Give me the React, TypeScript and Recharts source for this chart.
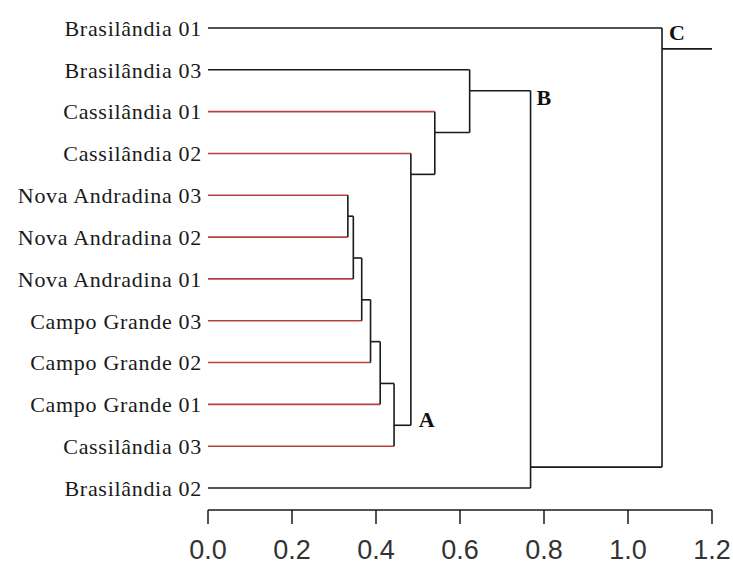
import React from 'react';
import { ComposedChart, XAxis, YAxis, ReferenceLine, ReferenceDot, Scatter } from 'recharts';

// leaves, top to bottom
const leaves = [
  'Brasilândia 01',
  'Brasilândia 03',
  'Cassilândia 01',
  'Cassilândia 02',
  'Nova Andradina 03',
  'Nova Andradina 02',
  'Nova Andradina 01',
  'Campo Grande 03',
  'Campo Grande 02',
  'Campo Grande 01',
  'Cassilândia 03',
  'Brasilândia 02',
];
const highlighted = [false, false, true, true, true, true, true, true, true, true, true, false];

// merges: [child a, child b, height]; new node ids start at leaves.length
const merges: [number, number, number][] = [
  [4, 5, 0.333],
  [12, 6, 0.346],
  [13, 7, 0.366],
  [14, 8, 0.387],
  [15, 9, 0.41],
  [16, 10, 0.443],
  [3, 17, 0.483],
  [2, 18, 0.54],
  [1, 19, 0.623],
  [20, 11, 0.768],
  [0, 21, 1.081],
];
const rootEnd = 1.2;

// cluster letters: [letter, child node, parent merge index]
const clusterLabels: [string, number, number][] = [
  ['A', 17, 6],
  ['B', 20, 9],
  ['C', 0, 10],
];

const xTicks = [0, 0.2, 0.4, 0.6, 0.8, 1.0, 1.2];

const RED = '#b8413f';
const BLACK = '#1a1a1a';

type Seg = { x1: number; y1: number; x2: number; y2: number; color: string };

function buildSegments() {
  const y: number[] = leaves.map((_, i) => i);
  const h: number[] = leaves.map(() => 0);
  const lo: number[] = leaves.map((_, i) => i);
  const hi: number[] = leaves.map((_, i) => i);
  const segs: Seg[] = [];
  merges.forEach(([a, b, height]) => {
    const [up, down] = lo[a] < lo[b] ? [a, b] : [b, a];
    [up, down].forEach((c) => {
      const color = c < leaves.length && highlighted[c] ? RED : BLACK;
      segs.push({ x1: h[c], y1: y[c], x2: height, y2: y[c], color });
    });
    segs.push({ x1: height, y1: y[up], x2: height, y2: y[down], color: BLACK });
    y.push((hi[up] + lo[down]) / 2);
    h.push(height);
    lo.push(Math.min(lo[a], lo[b]));
    hi.push(Math.max(hi[a], hi[b]));
  });
  const root = y.length - 1;
  segs.push({ x1: h[root], y1: y[root], x2: rootEnd, y2: y[root], color: BLACK });
  return { segs, y, h };
}

const { segs, y: nodeY } = buildSegments();
const leafPoints = leaves.map((_, i) => ({ x: 0, y: i }));

const labelOffsets: Record<string, [number, number]> = {
  A: [8, 2],
  B: [6, 14],
  C: [7, 12],
};

export default function App() {
  return (
    <div style={{ position: 'absolute', left: 0, top: 0, background: '#fff' }}>
      <ComposedChart width={733} height={565} margin={{ top: 28, right: 21, left: 0, bottom: 0 }}>
        <XAxis
          type="number"
          dataKey="x"
          domain={[0, 1.2]}
          ticks={xTicks}
          tickFormatter={(v: number) => v.toFixed(1)}
          tickSize={14}
          tickMargin={16}
          height={55}
          stroke={BLACK}
          axisLine={{ stroke: BLACK, strokeWidth: 1.5 }}
          tickLine={{ stroke: BLACK, strokeWidth: 1.5 }}
          tick={{ fill: '#333', fontFamily: 'Liberation Sans, Arial, sans-serif', fontSize: 27 }}
          allowDataOverflow
        />
        <YAxis
          type="number"
          dataKey="y"
          domain={[0, leaves.length - 1]}
          ticks={leaves.map((_, i) => i)}
          tickFormatter={(v: number) => leaves[v]}
          reversed
          width={208}
          padding={{ top: 0, bottom: 22 }}
          axisLine={false}
          tickLine={false}
          tickMargin={0}
          interval={0}
          tick={{ fill: '#1a1a1a', fontFamily: 'Liberation Serif, Times New Roman, serif', fontSize: 22, letterSpacing: 0.7 }}
          allowDataOverflow
        />
        <Scatter data={leafPoints} fill="none" shape={() => null} isAnimationActive={false} />
        {segs.map((s, i) => (
          <ReferenceLine
            key={`seg-${i}`}
            segment={[
              { x: s.x1, y: s.y1 },
              { x: s.x2, y: s.y2 },
            ]}
            stroke={s.color}
            strokeWidth={1.6}
            ifOverflow="visible"
          />
        ))}
        {clusterLabels.map(([letter, child, mi]) => (
          <ReferenceDot
            key={letter}
            x={merges[mi][2]}
            y={nodeY[child]}
            r={0}
            ifOverflow="visible"
            shape={(p: any) => (
              <text
                x={p.cx + labelOffsets[letter][0]}
                y={p.cy + labelOffsets[letter][1]}
                fontFamily="Liberation Serif, Times New Roman, serif"
                fontWeight="bold"
                fontSize={22}
                fill="#111"
              >
                {letter}
              </text>
            )}
          />
        ))}
      </ComposedChart>
    </div>
  );
}
